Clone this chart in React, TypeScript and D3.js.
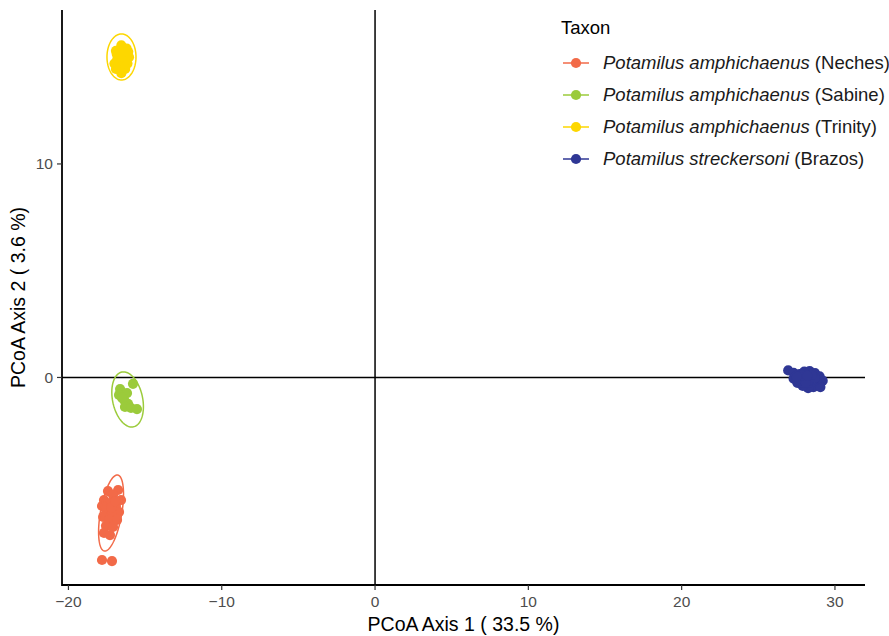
import * as d3 from "d3";

// PCoA scores (axis 1, axis 2)
const groups = ["Neches", "Sabine", "Trinity", "Brazos"];
const species = [
  "Potamilus amphichaenus",
  "Potamilus amphichaenus",
  "Potamilus amphichaenus",
  "Potamilus streckersoni",
];
const colors = ["#F26A48", "#9BCB3B", "#FDD700", "#2F3795"];

const neches: [number, number][] = [
  [-17.42, -5.32], [-16.76, -5.27], [-17.09, -5.5], [-17.68, -5.74], [-16.57, -5.74],
  [-17.29, -5.88], [-16.9, -6.02], [-17.81, -6.02], [-17.55, -6.21], [-16.7, -6.3],
  [-17.16, -6.39], [-17.74, -6.53], [-17.35, -6.67], [-16.83, -6.67], [-17.55, -6.95],
  [-17.09, -7.0], [-17.68, -7.28], [-17.29, -7.38], [-17.81, -8.55], [-17.16, -8.6],
  [-17.2, -6.1], [-16.95, -5.8],
];
const sabine: [number, number][] = [
  [-16.63, -0.54], [-15.79, -0.3], [-16.7, -0.82], [-16.18, -0.73], [-16.37, -1.05],
  [-16.11, -1.24], [-16.31, -1.38], [-15.92, -1.43], [-15.53, -1.48], [-16.5, -0.96],
];
const trinity: [number, number][] = [
  [-16.55, 15.55], [-16.2, 15.4], [-16.9, 15.3], [-16.45, 15.2], [-16.05, 15.0],
  [-16.8, 14.95], [-16.5, 14.85], [-17.0, 14.7], [-16.15, 14.7], [-16.6, 14.55],
  [-16.3, 14.45], [-16.55, 14.25], [-16.85, 15.15], [-16.1, 15.25], [-16.9, 14.45],
];
const brazos: [number, number][] = [
  [26.95, 0.33], [27.3, 0.22], [27.7, 0.15], [28.0, 0.27], [28.35, 0.3], [28.7, 0.2],
  [29.0, 0.05], [29.2, -0.15], [28.95, -0.35], [28.6, -0.45], [28.25, -0.5], [27.9, -0.4],
  [27.55, -0.25], [27.3, -0.05], [27.7, -0.05], [28.05, 0.0], [28.35, -0.12], [28.7, -0.02],
  [29.05, -0.45], [28.1, -0.25], [27.85, 0.1], [28.5, 0.12], [28.2, 0.08], [27.5, 0.05],
];
const points = [neches, sabine, trinity, brazos];

// 95% ellipses: centre, and the two semi-axis vectors, in data units
const ellCenter: [number, number][] = [[-17.22, -6.35], [-16.14, -1.03], [-16.54, 15.01], [28.11, -0.02]];
const ellAxisA: [number, number][] = [[0.437, 1.78], [0.378, -1.283], [0.946, 0], [1.0, 0]];
const ellAxisB: [number, number][] = [[0.685, -0.087], [0.959, 0.145], [0, 1.077], [0, 0.42]];

const xTicks = [-20, -10, 0, 10, 20, 30];
const yTicks = [0, 10];

const W = 889;
const H = 636;
const left = 62;
const right = 865;
const top = 10;
const bottom = 585;
const font = "'Liberation Sans', Arial, Helvetica, sans-serif";

export default function App() {
  const x = d3.scaleLinear().domain([-20.42, 31.96]).range([left, right]);
  const y = d3.scaleLinear().domain([-9.72, 17.21]).range([bottom, top]);

  const line = d3
    .line<[number, number]>()
    .x((d) => x(d[0]))
    .y((d) => y(d[1]))
    .curve(d3.curveLinearClosed);

  const ellipse = (i: number) =>
    d3.range(0, 2 * Math.PI, Math.PI / 60).map((t) => {
      const c = ellCenter[i], a = ellAxisA[i], b = ellAxisB[i];
      return [
        c[0] + a[0] * Math.cos(t) + b[0] * Math.sin(t),
        c[1] + a[1] * Math.cos(t) + b[1] * Math.sin(t),
      ] as [number, number];
    });

  return (
    <svg
      width={W}
      height={H}
      style={{ position: "absolute", left: 0, top: 0, background: "#fff" }}
      fontFamily={font}
    >
      {/* reference lines */}
      <line x1={x(0)} x2={x(0)} y1={top} y2={bottom} stroke="#000" strokeWidth={1.5} />
      <line x1={left} x2={right} y1={y(0)} y2={y(0)} stroke="#000" strokeWidth={1.5} />

      {points.map((pts, i) => (
        <g key={groups[i]} fill={colors[i]}>
          {pts.map((d, j) => (
            <circle key={j} cx={x(d[0])} cy={y(d[1])} r={5.1} />
          ))}
        </g>
      ))}
      {groups.map((g, i) => (
        <path key={g} d={line(ellipse(i)) ?? ""} fill="none" stroke={colors[i]} strokeWidth={1.5} />
      ))}

      {/* axes */}
      <line x1={left} x2={right} y1={bottom} y2={bottom} stroke="#000" strokeWidth={1.8} />
      <line x1={left} x2={left} y1={top} y2={bottom + 0.9} stroke="#000" strokeWidth={1.8} />
      {xTicks.map((t) => (
        <g key={t}>
          <line x1={x(t)} x2={x(t)} y1={bottom} y2={bottom + 5} stroke="#333" strokeWidth={1.2} />
          <text x={x(t)} y={607} textAnchor="middle" fontSize={15.5} fill="#4D4D4D">
            {t < 0 ? "\u2212" + Math.abs(t) : t}
          </text>
        </g>
      ))}
      {yTicks.map((t) => (
        <g key={t}>
          <line x1={left - 5} x2={left} y1={y(t)} y2={y(t)} stroke="#333" strokeWidth={1.2} />
          <text x={53} y={y(t) + 5.5} textAnchor="end" fontSize={15.5} fill="#4D4D4D">
            {t}
          </text>
        </g>
      ))}

      <text x={(left + right) / 2} y={631} textAnchor="middle" fontSize={19.5} fill="#000">
        PCoA Axis 1 ( 33.5 %)
      </text>
      <text
        transform={`translate(25,${(top + bottom) / 2}) rotate(-90)`}
        textAnchor="middle"
        fontSize={19.5}
        fill="#000"
      >
        PCoA Axis 2 ( 3.6 %)
      </text>

      {/* legend */}
      <text x={561} y={34} fontSize={18.5} fill="#000">
        Taxon
      </text>
      {groups.map((g, i) => {
        const cy = 63 + i * 32;
        return (
          <g key={g}>
            <line x1={563} x2={589} y1={cy} y2={cy} stroke={colors[i]} strokeWidth={1.5} />
            <circle cx={576} cy={cy} r={5.1} fill={colors[i]} />
            <text x={603} y={cy + 6} fontSize={18.5} fill="#1A1A1A">
              <tspan fontStyle="italic">{species[i]}</tspan>
              <tspan> ({g})</tspan>
            </text>
          </g>
        );
      })}
    </svg>
  );
}
